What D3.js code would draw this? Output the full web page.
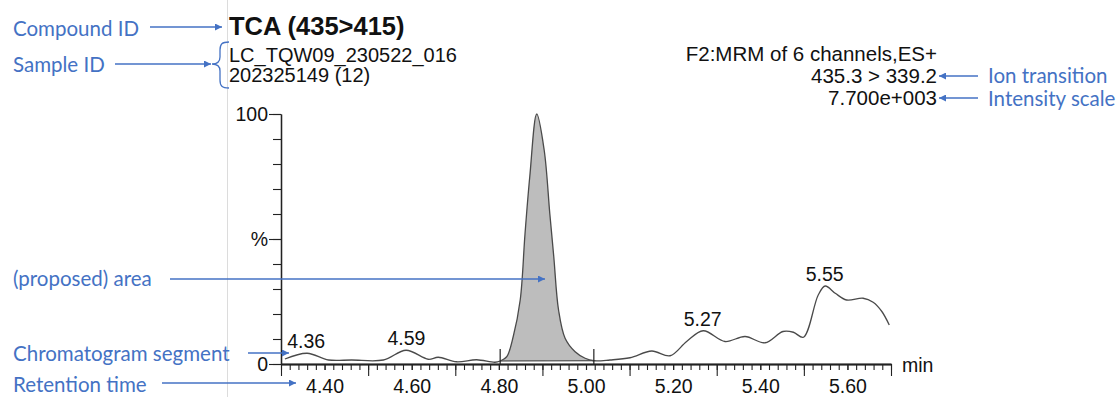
<!DOCTYPE html>
<html>
<head>
<meta charset="utf-8">
<script src="https://cdn.jsdelivr.net/npm/d3@7"></script>
<style>
  html, body { margin: 0; padding: 0; background: #fff; }
  svg { display: block; }
  .chart-text { font-family: "Liberation Sans", Arial, sans-serif; fill: #111; }
  .note { font-family: Lato, "Open Sans", sans-serif; fill: #4472c4; }
</style>
</head>
<body>
<div id="chart"></div>
<script>
// trace: retention time (min) and relative intensity (%)
const traceTime = [4.309, 4.360, 4.409, 4.462, 4.535, 4.587, 4.638, 4.661, 4.703, 4.749, 4.791,
    4.803, 4.818, 4.833, 4.849, 4.860, 4.871, 4.887, 4.904, 4.917, 4.926, 4.937, 4.952, 4.975, 4.998, 5.018,
    5.055, 5.101, 5.151, 5.193, 5.231, 5.269, 5.319, 5.365, 5.411, 5.452, 5.476, 5.499,
    5.533, 5.549, 5.572, 5.598, 5.636, 5.659, 5.679, 5.696];
const traceIntensity = [2.0, 4.3, 1.6, 1.6, 1.6, 5.5, 1.9, 2.7, 0.9, 1.7, 0.7,
    1.2, 2.9, 11, 25.6, 52, 75, 100, 85.6, 60, 43, 21.6, 10.3, 4.9, 2.3, 1.3,
    1.6, 2.5, 5.2, 3.3, 9, 13.3, 9, 11, 8.5, 13, 12.7, 10.7,
    27.6, 31.2, 28.3, 25.6, 26.3, 24.7, 21, 15.6];

// labelled peaks
const peakTimes = [4.36, 4.59, 5.27, 5.55];
const peakLabels = ['4.36', '4.59', '5.27', '5.55'];

// integration limits of the proposed area
const integrationStart = 4.803;
const integrationEnd = 5.018;

// axis settings
const timeDomain = [4.30, 5.70];
const timeLabelTicks = [4.40, 4.60, 4.80, 5.00, 5.20, 5.40, 5.60];
const timeLongTicks = [4.30, 4.50, 4.70, 4.90, 5.10, 5.30, 5.50, 5.70];
const yMajorTicks = [0, 50, 100];
const yMajorLabels = ['0', '%', '100'];

// header texts
const compoundId = 'TCA (435>415)';
const sampleLines = ['LC_TQW09_230522_016', '202325149 (12)'];
const functionLines = ['F2:MRM of 6 channels,ES+', '435.3 > 339.2', '7.700e+003'];

const width = 1118;
const height = 397;
const blue = '#4472c4';

const svg = d3.select('#chart').append('svg')
    .attr('width', width)
    .attr('height', height);

const defs = svg.append('defs');
defs.append('marker')
    .attr('id', 'arrow')
    .attr('viewBox', '0 0 10 10')
    .attr('refX', 10).attr('refY', 5)
    .attr('markerWidth', 9).attr('markerHeight', 7)
    .attr('markerUnits', 'userSpaceOnUse')
    .attr('orient', 'auto')
    .append('path')
    .attr('d', 'M0,0L10,5L0,10Z')
    .attr('fill', blue);

// panel edge
svg.append('line')
    .attr('x1', 227.5).attr('x2', 227.5)
    .attr('y1', 0).attr('y2', height)
    .attr('stroke', '#dcdcdc').attr('stroke-width', 1);

const x = d3.scaleLinear().domain(timeDomain).range([281, 891]);
const y = d3.scaleLinear().domain([0, 100]).range([364, 114]);

const trace = traceTime.map((t, i) => ({t: t, v: traceIntensity[i]}));

// proposed area
const inPeak = trace.filter(d => d.t >= integrationStart && d.t <= integrationEnd);
const v0 = inPeak[0].v;
const v1 = inPeak[inPeak.length - 1].v;
const baseAt = t => v0 + (v1 - v0) * (t - integrationStart) / (integrationEnd - integrationStart);

svg.append('path')
    .datum(inPeak)
    .attr('d', d3.area()
        .x(d => x(d.t))
        .y0(d => y(baseAt(d.t)))
        .y1(d => y(d.v))
        .curve(d3.curveCatmullRom.alpha(0.5)))
    .attr('fill', '#bdbdbd')
    .attr('stroke', 'none');

svg.append('line')
    .attr('x1', x(integrationStart)).attr('y1', y(v0))
    .attr('x2', x(integrationEnd)).attr('y2', y(v1))
    .attr('stroke', '#333').attr('stroke-width', 1);

// chromatogram trace
svg.append('path')
    .datum(trace)
    .attr('d', d3.line()
        .x(d => x(d.t))
        .y(d => y(d.v))
        .curve(d3.curveCatmullRom.alpha(0.5)))
    .attr('fill', 'none')
    .attr('stroke', '#4a4a4a')
    .attr('stroke-width', 1.3)
    .attr('stroke-linejoin', 'round');

// integration markers
svg.selectAll('.int-mark')
    .data([integrationStart, integrationEnd])
    .enter()
    .append('line')
    .attr('class', 'int-mark')
    .attr('x1', d => x(d)).attr('x2', d => x(d))
    .attr('y1', y(0)).attr('y2', y(0) - 15)
    .attr('stroke', '#222').attr('stroke-width', 1.2);

// x axis
const minorTicks = d3.range(0, 71).map(i => +(4.30 + i * 0.02).toFixed(2));
const styleAxis = g => {
    g.selectAll('.domain').attr('stroke', '#222').attr('stroke-width', 1.3);
    g.selectAll('.tick line').attr('stroke', '#222').attr('stroke-width', 1.1);
    g.selectAll('text').attr('class', 'chart-text').attr('fill', '#111')
        .style('font-family', '"Liberation Sans", Arial, sans-serif').style('font-size', '19.5px');
};

svg.append('g')
    .attr('transform', `translate(0,${y(0)})`)
    .call(d3.axisBottom(x).tickValues(minorTicks).tickSize(6).tickSizeOuter(0).tickFormat(''))
    .call(styleAxis);
svg.append('g')
    .attr('transform', `translate(0,${y(0)})`)
    .call(d3.axisBottom(x).tickValues(timeLongTicks).tickSize(12).tickSizeOuter(0).tickFormat(''))
    .call(styleAxis);
svg.append('g')
    .attr('transform', `translate(0,${y(0)})`)
    .call(d3.axisBottom(x).tickValues(timeLabelTicks).tickSize(6).tickPadding(9).tickSizeOuter(0).tickFormat(d3.format('.2f')))
    .call(styleAxis);

svg.append('text')
    .attr('class', 'chart-text')
    .attr('x', 902).attr('y', 372)
    .style('font-size', '19.5px')
    .text('min');

// y axis
svg.append('g')
    .attr('transform', `translate(${x(timeDomain[0])},0)`)
    .call(d3.axisLeft(y).tickValues(d3.range(0, 101, 10)).tickSize(8).tickSizeOuter(0).tickFormat(''))
    .call(styleAxis);
svg.append('g')
    .attr('transform', `translate(${x(timeDomain[0])},0)`)
    .call(d3.axisLeft(y).tickValues(yMajorTicks).tickSize(12).tickPadding(1).tickSizeOuter(0)
        .tickFormat((d, i) => yMajorLabels[i]))
    .call(styleAxis);

// peak labels
svg.selectAll('.peak-label')
    .data(peakTimes)
    .enter()
    .append('text')
    .attr('class', 'chart-text peak-label')
    .attr('text-anchor', 'middle')
    .style('font-size', '19.5px')
    .attr('x', d => x(d) - 1)
    .attr('y', d => {
        let best = trace.reduce((a, b) => Math.abs(b.t - d) < Math.abs(a.t - d) ? b : a);
        return y(best.v) - 5;
    })
    .text((d, i) => peakLabels[i]);

// header
svg.append('text')
    .attr('class', 'chart-text')
    .attr('x', 229).attr('y', 35)
    .style('font-size', '25.5px').style('font-weight', 'bold')
    .text(compoundId);

svg.selectAll('.sample-line')
    .data(sampleLines)
    .enter()
    .append('text')
    .attr('class', 'chart-text sample-line')
    .attr('x', 229).attr('y', (d, i) => 62 + i * 20)
    .style('font-size', '20px')
    .text(d => d);

svg.selectAll('.func-line')
    .data(functionLines)
    .enter()
    .append('text')
    .attr('class', 'chart-text func-line')
    .attr('text-anchor', 'end')
    .attr('x', 937).attr('y', (d, i) => 61 + i * 22)
    .style('font-size', '20.5px')
    .text(d => d);

// annotations
const notes = [
    {text: 'Compound ID', x: 13, y: 36, ax1: 150, ax2: 222, ay: 27},
    {text: 'Sample ID', x: 13, y: 72, ax1: 115, ax2: 211, ay: 64},
    {text: '(proposed) area', x: 13, y: 286, ax1: 170, ax2: 545, ay: 279},
    {text: 'Chromatogram segment', x: 13, y: 361, ax1: 248, ax2: 289, ay: 353},
    {text: 'Retention time', x: 13, y: 392, ax1: 162, ax2: 296, ay: 383},
    {text: 'Ion transition', x: 988, y: 83, ax1: 978, ax2: 939, ay: 76},
    {text: 'Intensity scale', x: 988, y: 106, ax1: 978, ax2: 939, ay: 98}
];

svg.selectAll('.note')
    .data(notes)
    .enter()
    .append('text')
    .attr('class', 'note')
    .attr('x', d => d.x).attr('y', d => d.y)
    .style('font-size', '20.5px')
    .text(d => d.text);

svg.selectAll('.note-arrow')
    .data(notes)
    .enter()
    .append('line')
    .attr('class', 'note-arrow')
    .attr('x1', d => d.ax1).attr('x2', d => d.ax2)
    .attr('y1', d => d.ay).attr('y2', d => d.ay)
    .attr('stroke', blue).attr('stroke-width', 1.3)
    .attr('marker-end', 'url(#arrow)');

// brace round the sample lines
svg.append('path')
    .attr('d', 'M229,42 C222,42 220,44 220,50 L220,57 C220,62 217,64 212,64 C217,64 220,66 220,71 L220,80 C220,86 222,88 229,88')
    .attr('fill', 'none')
    .attr('stroke', blue)
    .attr('stroke-width', 1.3);
</script>
</body>
</html>
